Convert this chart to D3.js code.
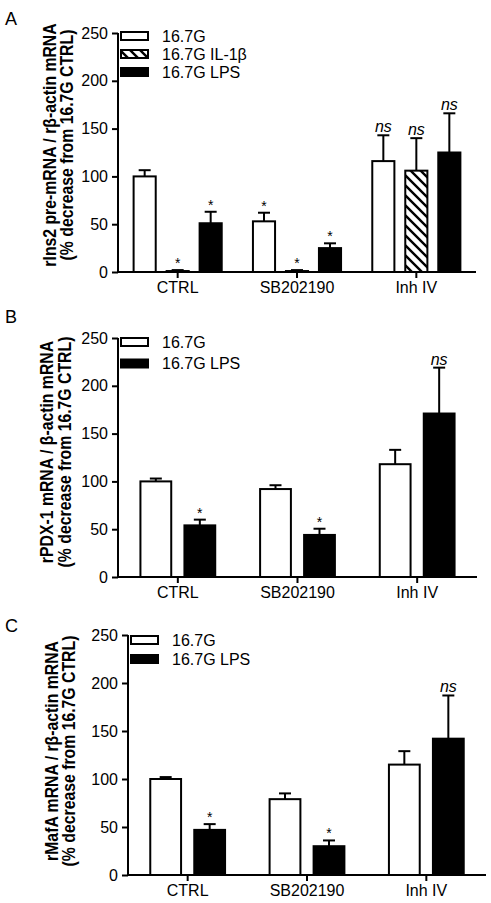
<!DOCTYPE html>
<html><head><meta charset="utf-8">
<script src="https://cdn.jsdelivr.net/npm/d3@7"></script>
<style>
body{margin:0;background:#fff;}
text{font-family:"Liberation Sans",Arial,Helvetica,sans-serif;fill:#000;}
</style></head>
<body><svg id="chart" width="491" height="903"></svg>
<script>
// ---- data ----
const groups = ["CTRL", "SB202190", "Inh IV"];
const yTicks = [0, 50, 100, 150, 200, 250];

// Panel A
const seriesA = ["16.7G", "16.7G IL-1β", "16.7G LPS"];
const aG = [100, 53, 116], aGErr = [6.5, 9, 27], aGSig = ["", "*", "ns"];
const aIL = [1, 1, 106], aILErr = [1, 1, 34], aILSig = ["*", "*", "ns"];
const aLPS = [51, 25, 125], aLPSErr = [12, 5, 41], aLPSSig = ["*", "*", "ns"];
const aYLabel = ["rIns2 pre-mRNA / rβ-actin mRNA", "(% decrease from 16.7G CTRL)"];

// Panel B
const seriesB = ["16.7G", "16.7G LPS"];
const bG = [100, 92, 118], bGErr = [3, 4, 15], bGSig = ["", "", ""];
const bLPS = [54, 44, 171], bLPSErr = [6, 6.5, 48], bLPSSig = ["*", "*", "ns"];
const bYLabel = ["rPDX-1 mRNA / β-actin mRNA", "(% decrease from 16.7G CTRL)"];

// Panel C
const seriesC = ["16.7G", "16.7G LPS"];
const cG = [100, 79, 115], cGErr = [2, 6, 14], cGSig = ["", "", ""];
const cLPS = [47, 30, 142], cLPSErr = [6, 6, 45], cLPSSig = ["*", "*", "ns"];
const cYLabel = ["rMafA mRNA / rβ-actin mRNA", "(% decrease from 16.7G CTRL)"];

const fills = ["white", "url(#hatch)", "black"];

// ---- drawing ----
const svg = d3.select("#chart");
const defs = svg.append("defs");
const pat = defs.append("pattern").attr("id", "hatch").attr("patternUnits", "userSpaceOnUse")
  .attr("width", 10).attr("height", 10);
pat.append("rect").attr("width", 10).attr("height", 10).attr("fill", "white");
pat.append("path").attr("d", "M-2.5,7.5L2.5,12.5M0,0L10,10M7.5,-2.5L12.5,2.5")
  .attr("stroke", "black").attr("stroke-width", 2.4);

function panel(cfg) {
  const g = svg.append("g");
  const y = d3.scaleLinear().domain([0, 250]).range([cfg.y0, cfg.y1]);
  const x = d3.scaleBand().domain(groups).range([cfg.x0, cfg.x1]);
  const n = cfg.series.length;
  const W = n * cfg.step;
  const xs = d3.scaleBand().domain(cfg.series).range([-W / 2, W / 2])
    .paddingInner(cfg.pad).paddingOuter(cfg.pad / 2);

  cfg.series.forEach((s, si) => {
    const vals = cfg.values[si], errs = cfg.errs[si], sig = cfg.sig[si];
    const fill = cfg.fills[si];
    groups.forEach((grp, gi) => {
      const cx = x(grp) + x.bandwidth() / 2;
      const bx = cx + xs(s);
      const mid = bx + xs.bandwidth() / 2;
      const top = y(vals[gi]);
      const et = y(vals[gi] + errs[gi]);
      g.append("line").attr("x1", mid).attr("x2", mid).attr("y1", top).attr("y2", et)
        .attr("stroke", "black").attr("stroke-width", 2);
      g.append("line").attr("x1", mid - 6).attr("x2", mid + 6).attr("y1", et).attr("y2", et)
        .attr("stroke", "black").attr("stroke-width", 2);
      g.append("rect").attr("x", bx).attr("y", top).attr("width", xs.bandwidth())
        .attr("height", y(0) - top).attr("fill", fill).attr("stroke", "black").attr("stroke-width", 2);
      if (sig[gi] === "*") {
        g.append("text").attr("x", mid).attr("y", et - 2).attr("text-anchor", "middle")
          .attr("font-size", 14).text("*");
      } else if (sig[gi] === "ns") {
        g.append("text").attr("x", mid).attr("y", et - 3).attr("text-anchor", "middle")
          .attr("font-size", 16).attr("font-style", "italic").text("ns");
      }
    });
  });

  const ya = g.append("g").attr("transform", `translate(${cfg.x0},0)`)
    .call(d3.axisLeft(y).tickValues(yTicks).tickSize(6).tickSizeOuter(0).tickPadding(4));
  const xa = g.append("g").attr("transform", `translate(0,${cfg.y0})`)
    .call(d3.axisBottom(x).tickSize(6).tickSizeOuter(0).tickPadding(4));
  [ya, xa].forEach(a => {
    a.select(".domain").attr("stroke", "black").attr("stroke-width", 2);
    a.selectAll(".tick line").attr("stroke", "black").attr("stroke-width", 2);
    a.selectAll(".tick text").attr("font-size", 16).attr("fill", "black")
      .style("font-family", '"Liberation Sans",Arial,sans-serif');
  });
  ya.select(".domain").attr("d", `M0,${cfg.y0 + 1}V${cfg.y1}`);
  xa.select(".domain").attr("d", `M${cfg.x0 - 1},0H${cfg.x1}`);

  // legend
  cfg.series.forEach((s, si) => {
    const ly = cfg.legY + si * cfg.legStep;
    g.append("rect").attr("x", cfg.x0 + 3).attr("y", ly - 4).attr("width", 27).attr("height", 8)
      .attr("fill", cfg.fills[si]).attr("stroke", "black").attr("stroke-width", 2);
    g.append("text").attr("x", cfg.x0 + 44).attr("y", ly).attr("dy", "0.36em")
      .attr("font-size", 16).text(s);
  });

  // y label
  cfg.ylabel.forEach((t, i) => {
    g.append("text").attr("transform", `translate(${cfg.labX[i]},${cfg.labY}) scale(1.15,1) rotate(-90)`)
      .attr("text-anchor", "middle").attr("font-size", 15.8).attr("font-weight", "bold").text(t);
  });
  g.append("text").attr("x", 5).attr("y", cfg.letterY).attr("font-size", 18).text(cfg.letter);
}

panel({letter: "A", letterY: 25, x0: 118, x1: 476, y0: 272, y1: 33, step: 33, pad: 0.33,
  series: seriesA, values: [aG, aIL, aLPS], errs: [aGErr, aILErr, aLPSErr], sig: [aGSig, aILSig, aLPSSig],
  fills: fills, legY: 36, legStep: 18, ylabel: aYLabel, labX: [56, 73], labY: 145});
panel({letter: "B", letterY: 323, x0: 118, x1: 477, y0: 577, y1: 338, step: 44, pad: 0.3,
  series: seriesB, values: [bG, bLPS], errs: [bGErr, bLPSErr], sig: [bGSig, bLPSSig],
  fills: [fills[0], fills[2]], legY: 342, legStep: 21.5, ylabel: bYLabel, labX: [53, 71], labY: 452});
panel({letter: "C", letterY: 632, x0: 128, x1: 486, y0: 875, y1: 635, step: 44, pad: 0.3,
  series: seriesC, values: [cG, cLPS], errs: [cGErr, cLPSErr], sig: [cGSig, cLPSSig],
  fills: [fills[0], fills[2]], legY: 640, legStep: 19, ylabel: cYLabel, labX: [58, 75], labY: 751});
</script></body></html>
